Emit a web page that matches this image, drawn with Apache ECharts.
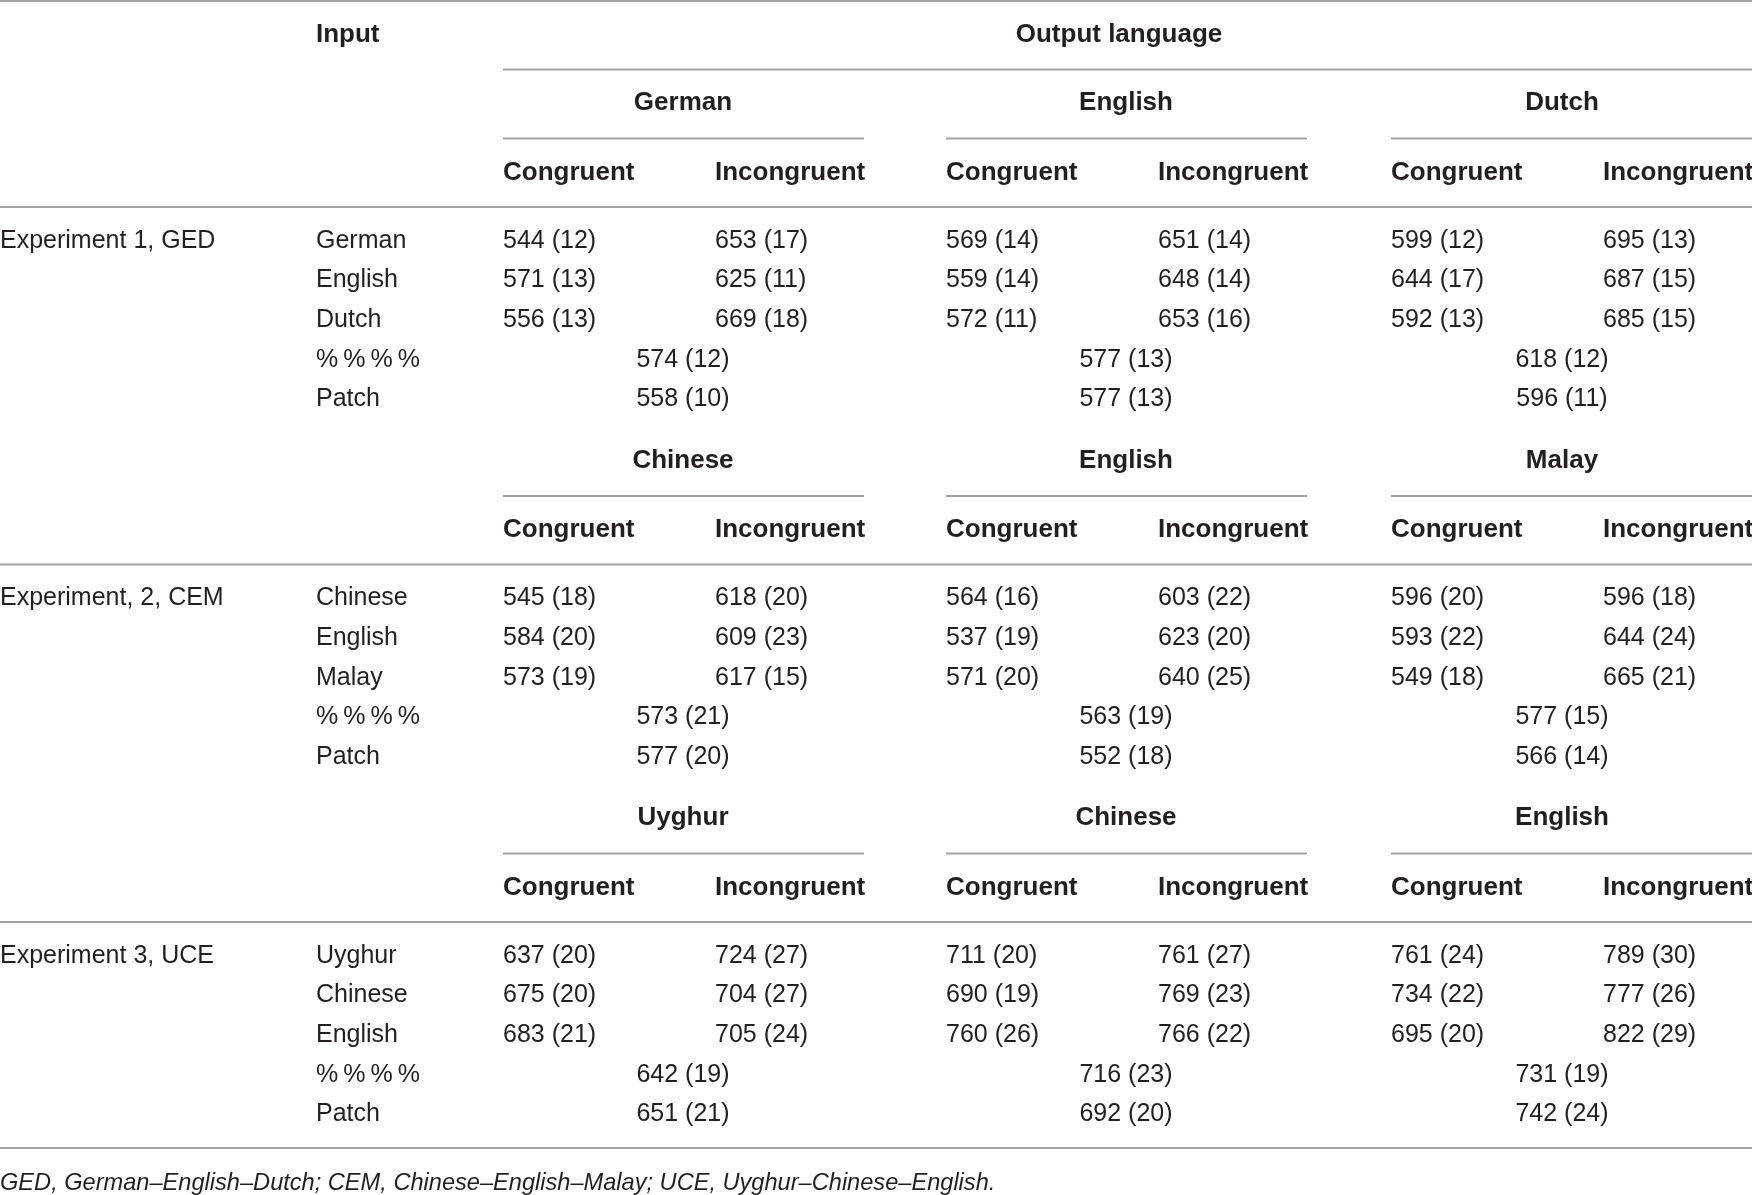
<!DOCTYPE html>
<html>
<head>
<meta charset="UTF-8">
<script src="https://cdn.jsdelivr.net/npm/echarts@6.0.0/dist/echarts.min.js"></script>
<style>
  html, body { margin: 0; padding: 0; background: #fff; }
  #main { width: 1752px; height: 1195px; }
</style>
</head>
<body>
<div id="main"></div>
<script>
// ---- table data ----
const expLabels = ['Experiment 1, GED', 'Experiment, 2, CEM', 'Experiment 3, UCE'];
const inputLangs = [
  ['German', 'English', 'Dutch'],
  ['Chinese', 'English', 'Malay'],
  ['Uyghur', 'Chinese', 'English']
];
const outputLangs = [
  ['German', 'English', 'Dutch'],
  ['Chinese', 'English', 'Malay'],
  ['Uyghur', 'Chinese', 'English']
];
const conditions = ['Congruent', 'Incongruent'];
const extraRows = ['%\u2009%\u2009%\u2009%', 'Patch'];

// mean RT per experiment -> input row -> [out1 C, out1 I, out2 C, out2 I, out3 C, out3 I]
const meanRT = [
  [[544, 653, 569, 651, 599, 695], [571, 625, 559, 648, 644, 687], [556, 669, 572, 653, 592, 685]],
  [[545, 618, 564, 603, 596, 596], [584, 609, 537, 623, 593, 644], [573, 617, 571, 640, 549, 665]],
  [[637, 724, 711, 761, 761, 789], [675, 704, 690, 769, 734, 777], [683, 705, 760, 766, 695, 822]]
];
const seRT = [
  [[12, 17, 14, 14, 12, 13], [13, 11, 14, 14, 17, 15], [13, 18, 11, 16, 13, 15]],
  [[18, 20, 16, 22, 20, 18], [20, 23, 19, 20, 22, 24], [19, 15, 20, 25, 18, 21]],
  [[20, 27, 20, 27, 24, 30], [20, 27, 19, 23, 22, 26], [21, 24, 26, 22, 20, 29]]
];
// %%%% and Patch rows: experiment -> output language
const maskMean = [[574, 577, 618], [573, 563, 577], [642, 716, 731]];
const maskSE = [[12, 13, 12], [21, 19, 15], [19, 23, 19]];
const patchMean = [[558, 577, 596], [577, 552, 566], [651, 692, 742]];
const patchSE = [[10, 13, 11], [20, 18, 14], [21, 20, 24]];

const headInput = 'Input';
const headOutput = 'Output language';
const footnote = 'GED, German\u2013English\u2013Dutch; CEM, Chinese\u2013English\u2013Malay; UCE, Uyghur\u2013Chinese\u2013English.';

// ---- layout (in canvas pixel units of the hidden axes) ----
const W = 1752, H = 1195;
const colExp = 0, colInput = 316;
const groupLeft = [503, 946, 1391];
const incongOffset = 212;
const groupCenter = [683, 1126, 1562];
const groupRight = [864, 1307, 1752];
const outputCenter = 1119;
const topRuleY = 1, headY = 35, outRuleY = 69.5;
const blockStep = 357.5;
const langY = 103, rule1Y = 138.5, condY = 172.5, rule2Y = 207, rowY0 = 241, rowStep = 39.6;
const bottomRuleY = 1148, noteY = 1183;

const cells = [];
const rules = [];
function cell(x, y, t, w, a) { cells.push({ x: x, y: y, t: t, w: w || 'normal', a: a || 'left' }); }

cell(colInput, headY, headInput, 'bold');
cell(outputCenter, headY, headOutput, 'bold', 'center');
rules.push([0, topRuleY, W]);
rules.push([groupLeft[0], outRuleY, W]);

expLabels.forEach(function (exp, e) {
  const off = e * blockStep;
  outputLangs[e].forEach(function (lang, g) {
    cell(groupCenter[g], langY + off, lang, 'bold', 'center');
    rules.push([groupLeft[g], rule1Y + off, groupRight[g]]);
    conditions.forEach(function (c, k) {
      cell(groupLeft[g] + k * incongOffset, condY + off, c, 'bold');
    });
  });
  rules.push([0, rule2Y + off, W]);
  cell(colExp, rowY0 + off, exp);
  inputLangs[e].forEach(function (lang, r) {
    const y = rowY0 + off + r * rowStep;
    cell(colInput, y, lang);
    meanRT[e][r].forEach(function (m, j) {
      const g = Math.floor(j / 2), k = j % 2;
      cell(groupLeft[g] + k * incongOffset, y, m + ' (' + seRT[e][r][j] + ')');
    });
  });
  const yMask = rowY0 + off + 3 * rowStep;
  const yPatch = rowY0 + off + 4 * rowStep;
  cell(colInput, yMask, extraRows[0]);
  cell(colInput, yPatch, extraRows[1]);
  for (let g = 0; g < 3; g++) {
    cell(groupCenter[g], yMask, maskMean[e][g] + ' (' + maskSE[e][g] + ')', 'normal', 'center');
    cell(groupCenter[g], yPatch, patchMean[e][g] + ' (' + patchSE[e][g] + ')', 'normal', 'center');
  }
});
rules.push([0, bottomRuleY, W]);
cell(colExp, noteY, footnote, 'italic');

const chart = echarts.init(document.getElementById('main'));
chart.setOption({
  animation: false,
  backgroundColor: '#ffffff',
  grid: { left: 0, right: 0, top: 0, bottom: 0 },
  xAxis: { type: 'value', min: 0, max: W, show: false },
  yAxis: { type: 'value', min: 0, max: H, inverse: true, show: false },
  series: [
    {
      type: 'custom',
      silent: true,
      clip: false,
      data: rules,
      renderItem: function (params, api) {
        const a = api.coord([api.value(0), api.value(1)]);
        const b = api.coord([api.value(2), api.value(1)]);
        return {
          type: 'line',
          shape: { x1: a[0], y1: a[1], x2: b[0], y2: b[1] },
          style: { stroke: '#a3a3a3', lineWidth: 2 }
        };
      }
    },
    {
      type: 'custom',
      silent: true,
      clip: false,
      data: cells.map(function (c, i) { return [c.x, c.y, i]; }),
      renderItem: function (params, api) {
        const c = cells[api.value(2)];
        const p = api.coord([api.value(0), api.value(1)]);
        return {
          type: 'text',
          x: p[0],
          y: p[1],
          style: {
            text: c.t,
            fill: '#231f20',
            fontFamily: 'Liberation Sans, Arial, sans-serif',
            fontSize: c.w === 'italic' ? 23.6 : (c.w === 'bold' ? 26 : 25),
            fontWeight: c.w === 'bold' ? 'bold' : 'normal',
            fontStyle: c.w === 'italic' ? 'italic' : 'normal',
            align: c.a,
            verticalAlign: 'middle'
          }
        };
      }
    }
  ]
});
</script>
</body>
</html>
